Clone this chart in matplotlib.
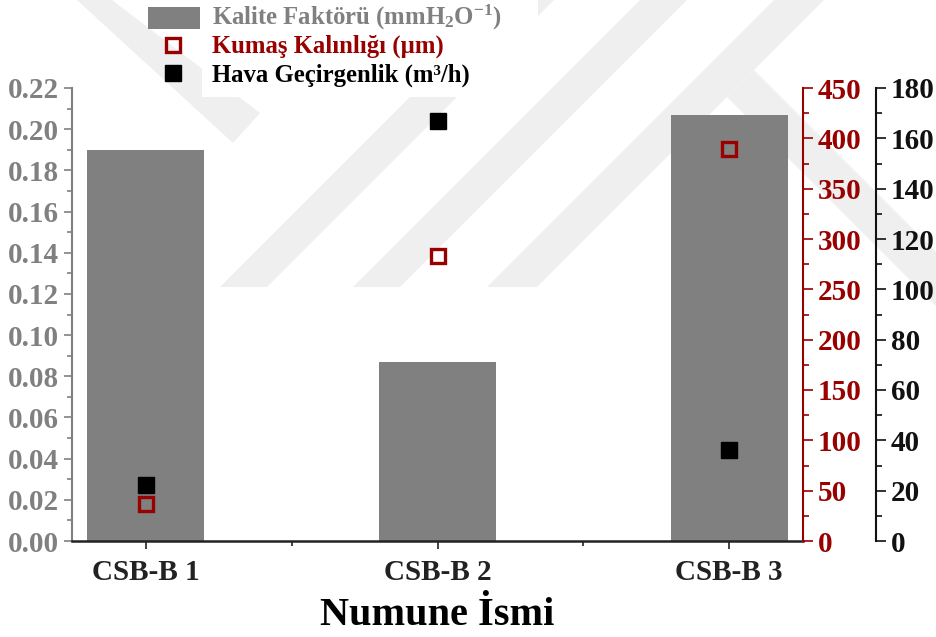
import matplotlib
matplotlib.use('Agg')
import matplotlib.pyplot as plt
from matplotlib.patches import Polygon, Rectangle
from matplotlib.lines import Line2D
from matplotlib.ticker import MultipleLocator, FormatStrFormatter

plt.rcParams['font.family'] = ['Liberation Serif', 'DejaVu Serif']
plt.rcParams['font.weight'] = 'bold'
plt.rcParams['mathtext.fontset'] = 'custom'
plt.rcParams['mathtext.rm'] = 'Liberation Serif:bold'
plt.rcParams['mathtext.it'] = 'Liberation Serif:bold'
plt.rcParams['mathtext.bf'] = 'Liberation Serif:bold'

# veriler
numuneler = ['CSB-B 1', 'CSB-B 2', 'CSB-B 3']
kalite_faktoru = [0.190, 0.087, 0.207]      # mmH2O^-1
kumas_kalinligi = [37, 283, 389]            # um
hava_gecirgenlik = [22.3, 167, 36]          # m3/h

GRI = '#808080'
KIRMIZI = '#990000'
FS = 21

W, H = 936, 637
fig = plt.figure(figsize=(W / 100, H / 100), dpi=100)


def px(pts):
    return [(x / W, 1 - y / H) for x, y in pts]


# arka plan filigran şeritleri (piksel koordinatları)
seritler = [
    [(220, 287), (267, 287), (554, 0), (507, 0)],
    [(353, 287), (400, 287), (687, 0), (640, 0)],
    [(487, 287), (537, 287), (824, 0), (774, 0)],
    [(77, 0), (112, 0), (260, 113), (233, 143)],
    [(727, 97), (754, 70), (936, 252), (936, 306)],
]
for s in seritler:
    fig.patches.append(Polygon(px(s), closed=True, transform=fig.transFigure,
                               facecolor='#efefef', edgecolor='none', zorder=-1))

ax = fig.add_axes([72 / W, 1 - 541 / H, (803 - 72) / W, (541 - 88) / H])
ax.set_facecolor('none')
ax2 = ax.twinx()
ax3 = ax.twinx()

x = range(len(numuneler))
ax.bar(x, kalite_faktoru, width=0.4, color=GRI, zorder=1)
ax.set_xlim(-0.253, 2.253)
ax.set_ylim(0, 0.22)
ax.yaxis.set_major_locator(MultipleLocator(0.02))
ax.yaxis.set_minor_locator(MultipleLocator(0.01))
ax.yaxis.set_major_formatter(FormatStrFormatter('%.2f'))
ax.set_xticks(list(x))
ax.set_xticklabels(numuneler)
ax.xaxis.set_minor_locator(MultipleLocator(0.5))
ax.set_xlabel('Numune İsmi', fontsize=29, fontweight='bold', labelpad=8)

ax.spines['top'].set_visible(False)
ax.spines['right'].set_visible(False)
ax.spines['left'].set_color(GRI)
ax.spines['left'].set_linewidth(1.5)
ax.spines['bottom'].set_color('#222222')
ax.spines['bottom'].set_linewidth(1.8)
ax.tick_params(axis='y', which='both', colors=GRI, labelsize=FS, width=1.2)
ax.tick_params(axis='y', which='major', length=6)
ax.tick_params(axis='y', which='minor', length=3.5)
ax.tick_params(axis='x', which='both', colors='#222222', labelsize=FS, width=1.2)
ax.tick_params(axis='x', which='major', length=6, pad=7)
ax.tick_params(axis='x', which='minor', length=3.5)

# kumaş kalınlığı - kırmızı eksen
ax2.plot(x, kumas_kalinligi, 's', ms=10.3, mfc='none', mec=KIRMIZI, mew=2.4, zorder=3)
ax2.set_ylim(0, 450)
ax2.yaxis.set_major_locator(MultipleLocator(50))
ax2.yaxis.set_minor_locator(MultipleLocator(25))
for sp in ['top', 'left', 'bottom']:
    ax2.spines[sp].set_visible(False)
ax2.spines['right'].set_color(KIRMIZI)
ax2.spines['right'].set_linewidth(1.5)
ax2.tick_params(axis='y', which='both', colors=KIRMIZI, labelsize=FS, width=1.2)
ax2.tick_params(axis='y', which='major', length=7)
ax2.tick_params(axis='y', which='minor', length=4)

# hava geçirgenliği - siyah eksen
ax3.plot(x, hava_gecirgenlik, 's', ms=11.3, color='black', zorder=3)
ax3.set_ylim(0, 180)
ax3.spines['right'].set_position(('axes', 1.1))
ax3.yaxis.set_major_locator(MultipleLocator(20))
ax3.yaxis.set_minor_locator(MultipleLocator(10))
for sp in ['top', 'left', 'bottom']:
    ax3.spines[sp].set_visible(False)
ax3.spines['right'].set_color('#111111')
ax3.spines['right'].set_linewidth(1.5)
ax3.tick_params(axis='y', which='both', colors='#111111', labelsize=FS, width=1.2)
ax3.tick_params(axis='y', which='major', length=7)
ax3.tick_params(axis='y', which='minor', length=4)

# lejant (elle yerleştirildi): yazıların arkası beyaz kutu
fig.patches.append(Rectangle((202 / W, 1 - 97 / H), (538 - 202) / W, 97 / H,
                             transform=fig.transFigure, facecolor='white',
                             edgecolor='none', zorder=4))
fig.patches.append(Rectangle((148 / W, 1 - 29 / H), 52 / W, 22 / H,
                             transform=fig.transFigure, facecolor=GRI,
                             edgecolor='none', zorder=5))
fig.add_artist(Line2D([173 / W], [1 - 45 / H], transform=fig.transFigure, ls='none',
                      marker='s', ms=10.3, mfc='none', mec=KIRMIZI, mew=2.4, zorder=5))
fig.add_artist(Line2D([173 / W], [1 - 73 / H], transform=fig.transFigure, ls='none',
                      marker='s', ms=11.3, color='black', zorder=5))
etiketler = ['Kalite Faktörü (mmH$_2$O$^{-1}$)', 'Kumaş Kalınlığı (µm)',
             'Hava Geçirgenlik (m³/h)']
for etiket, renk, yb in zip(etiketler, [GRI, KIRMIZI, 'black'], [25, 53, 82]):
    fig.text(212 / W, 1 - yb / H, etiket, color=renk, fontsize=17.8,
             fontweight='bold', va='baseline', ha='left', zorder=6)

fig.savefig('out.png', dpi=100)
